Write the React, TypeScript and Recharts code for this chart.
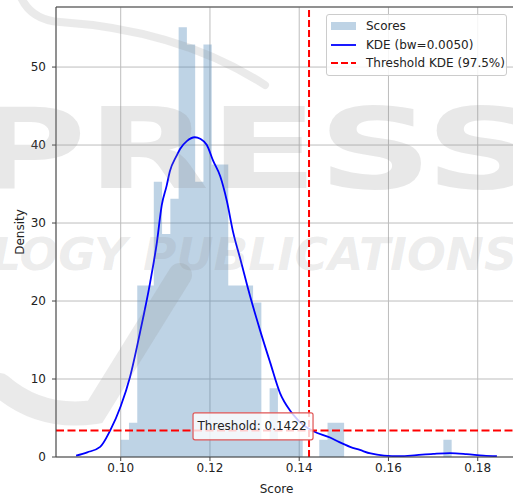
import {
  Area,
  CartesianGrid,
  ComposedChart,
  Legend,
  Line,
  ReferenceDot,
  ReferenceLine,
  XAxis,
  YAxis,
} from "recharts";

const FONT = "DejaVu Sans, sans-serif";

/** Histogram bins: left edge of the first bin and the bin width (40 equal bins). */
const BIN_START = 0.1;
const BIN_WIDTH = 0.001854;
/** Density of each bin. */
const histDensity = [
  2.2, 4.4, 22.0, 22.0, 35.3, 28.6, 33.1, 55.1, 52.9, 35.3,
  52.9, 37.5, 37.5, 22.0, 22.0, 22.0, 19.8, 2.2, 8.8, 2.2,
  2.2, 2.2, 0, 0, 2.2, 4.4, 4.4, 0, 0, 0,
  0, 0, 0, 0, 0, 0, 0, 0, 0, 2.2,
];

/** KDE curve (bw = 0.0050). */
const kdeX = [
  0.09, 0.0925, 0.0954, 0.0976, 0.1, 0.1021, 0.1043, 0.1066, 0.1081, 0.1092,
  0.1103, 0.111, 0.1125, 0.1133, 0.1148, 0.1166, 0.1178, 0.1193, 0.1207, 0.1223,
  0.1238, 0.1252, 0.1267, 0.129, 0.1312, 0.1335, 0.1357, 0.1379, 0.1387, 0.1409,
  0.1432, 0.1469, 0.149, 0.1514, 0.1536, 0.156, 0.159, 0.1626, 0.1663, 0.17,
  0.1738, 0.1775, 0.1813, 0.1843,
];
const kdeY = [
  0.17, 0.6, 1.3, 3.35, 6.5, 10.3, 15.9, 22.4, 27.5, 32.3,
  34.8, 36.6, 38.6, 39.5, 40.5, 41.0, 40.8, 40.0, 38.0, 36.0,
  32.8, 28.8, 25.6, 20.6, 16.3, 12.1, 8.2, 6.0, 5.4, 4.1,
  3.3, 2.5, 1.9, 1.3, 0.9, 0.45, 0.18, 0.1, 0.25, 0.4,
  0.5, 0.38, 0.18, 0.1,
];

const THRESHOLD = 0.1422;
const THRESHOLD_DENSITY = 3.4;

const xTicks = [0.1, 0.12, 0.14, 0.16, 0.18];
const yTicks = [0, 10, 20, 30, 40, 50];

const legendItems = [
  { label: "Scores", kind: "patch" },
  { label: "KDE (bw=0.0050)", kind: "line" },
  { label: "Threshold KDE (97.5%)", kind: "dash" },
];

// stepAfter area gives the histogram outline; repeat last value at the closing edge
const histData = histDensity
  .map((d, i) => ({ x: BIN_START + i * BIN_WIDTH, hist: d }))
  .concat([{ x: BIN_START + histDensity.length * BIN_WIDTH, hist: histDensity[histDensity.length - 1] }]);

const kdeData = kdeX.map((x, i) => ({ x, kde: kdeY[i] }));

function ThresholdNote(props: any) {
  const { cx, cy } = props;
  return (
    <g>
      <rect
        x={cx - 116}
        y={cy - 17.7}
        width={120}
        height={27}
        rx={2}
        fill="#fff"
        fillOpacity={0.8}
        stroke="#e05555"
        strokeWidth={1.2}
      />
      <text x={cx - 2.5} y={cy - 0.5} textAnchor="end" fontFamily={FONT} fontSize={12} fill="#222">
        Threshold: {THRESHOLD.toFixed(4)}
      </text>
    </g>
  );
}

function LegendBox() {
  return (
    <div
      style={{
        border: "1px solid #cccccc",
        borderRadius: 3,
        background: "rgba(255,255,255,0.85)",
        padding: "2px 0 2px 4px",
        fontFamily: FONT,
        fontSize: 12,
        color: "#222",
        lineHeight: "18.5px",
        boxSizing: "border-box",
      }}
    >
      {legendItems.map((it) => (
        <div key={it.label} style={{ display: "flex", alignItems: "center", whiteSpace: "nowrap" }}>
          <svg width={26} height={10} style={{ marginRight: 9 }}>
            {it.kind === "patch" && <rect x={0} y={1} width={25} height={8} fill="#4682b4" fillOpacity={0.35} />}
            {it.kind === "line" && <line x1={0} x2={25} y1={5} y2={5} stroke="#0000ff" strokeWidth={1.8} />}
            {it.kind === "dash" && (
              <line x1={0} x2={25} y1={5} y2={5} stroke="red" strokeWidth={2} strokeDasharray="7 3" />
            )}
          </svg>
          <span>{it.label}</span>
        </div>
      ))}
    </div>
  );
}

// faint publisher watermark lying over the figure
function Watermark() {
  return (
    <svg width={513} height={497} style={{ position: "absolute", left: 0, top: 0, pointerEvents: "none" }}>
      <g fill="none" stroke="#8c8c8c" strokeOpacity={0.18} strokeLinecap="round">
        <path d="M 20 -5 Q 30 20 60 22 Q 180 30 265 85" strokeWidth={8} />
        <path d="M 0 385 Q 40 420 95 412 L 180 275" strokeWidth={24} />
      </g>
      <text
        x={-30}
        y={188}
        fontFamily={FONT}
        fontWeight="bold"
        fontSize={112}
        textLength={570}
        lengthAdjust="spacingAndGlyphs"
        fill="#8c8c8c"
        fillOpacity={0.2}
      >
        PRESS
      </text>
      <text
        x={-8}
        y={270}
        fontFamily={FONT}
        fontWeight="bold"
        fontStyle="italic"
        fontSize={44}
        textLength={525}
        lengthAdjust="spacingAndGlyphs"
        fill="#8c8c8c"
        fillOpacity={0.17}
      >
        LOGY PUBLICATIONS
      </text>
    </svg>
  );
}

export default function App() {
  return (
    <div
      style={{
        position: "absolute",
        left: 0,
        top: 0,
        width: 513,
        height: 497,
        overflow: "hidden",
        background: "#fff",
      }}
    >
      <ComposedChart width={530} height={497} margin={{ top: 7, right: 11, bottom: 0, left: 0 }}>
        <CartesianGrid stroke="#bdbdbd" strokeWidth={1} />
        <XAxis
          type="number"
          dataKey="x"
          domain={[0.0855, 0.18925]}
          allowDataOverflow
          ticks={xTicks}
          tickFormatter={(v: number) => v.toFixed(2)}
          height={40}
          tickSize={4}
          tickMargin={2}
          stroke="#444"
          tick={{ fill: "#222", fontSize: 12, fontFamily: FONT }}
          label={{ value: "Score", position: "insideBottom", offset: 4, dx: -11, fill: "#222", fontSize: 12, fontFamily: FONT }}
        />
        <YAxis
          type="number"
          domain={[0, 57.7]}
          allowDataOverflow
          ticks={yTicks}
          width={56}
          tickSize={4}
          tickMargin={6}
          stroke="#444"
          tick={{ fill: "#222", fontSize: 12, fontFamily: FONT }}
          label={{ value: "Density", angle: -90, position: "center", dx: -8, fill: "#222", fontSize: 12, fontFamily: FONT }}
        />
        <ReferenceLine y={57.7} stroke="#444" />
        <Area
          data={histData}
          dataKey="hist"
          type="stepAfter"
          fill="#4682b4"
          fillOpacity={0.35}
          stroke="none"
          isAnimationActive={false}
        />
        <Line
          data={kdeData}
          dataKey="kde"
          type="monotone"
          stroke="#0000ff"
          strokeWidth={1.8}
          dot={false}
          isAnimationActive={false}
        />
        <ReferenceLine x={THRESHOLD} stroke="red" strokeWidth={2} strokeDasharray="7 3" />
        <ReferenceLine y={THRESHOLD_DENSITY} stroke="red" strokeWidth={2} strokeDasharray="8 3.5" />
        <ReferenceDot x={THRESHOLD} y={THRESHOLD_DENSITY} r={0} shape={ThresholdNote} />
        <Legend
          layout="vertical"
          align="center"
          verticalAlign="middle"
          wrapperStyle={{ left: 326, top: 14, width: 181 }}
          content={() => <LegendBox />}
        />
      </ComposedChart>
      <Watermark />
    </div>
  );
}
